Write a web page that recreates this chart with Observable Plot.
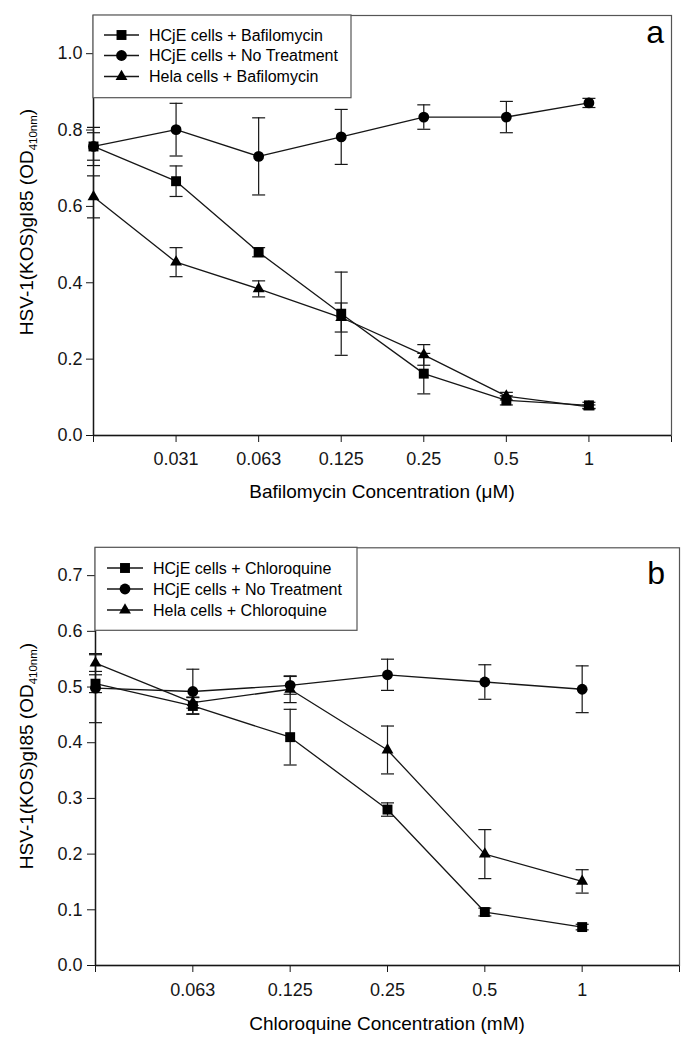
<!DOCTYPE html>
<html><head><meta charset="utf-8">
<script src="https://cdn.jsdelivr.net/npm/d3@7"></script>
<script src="https://cdn.jsdelivr.net/npm/@observablehq/plot@0.6"></script>
<style>
body{margin:0;background:#fff;}
#chart{width:690px;}
#chart svg{display:block;}
</style></head><body><div id="chart"></div>
<script>
// ---------- Panel a data ----------
const seriesA = ["HCjE cells + Bafilomycin", "HCjE cells + No Treatment", "Hela cells + Bafilomycin"];
const concA = ["0", "0.031", "0.063", "0.125", "0.25", "0.5", "1"];
const bafHCjE = [0.757, 0.666, 0.480, 0.319, 0.162, 0.092, 0.079];
const bafHCjEErr = [0.036, 0.040, 0.012, 0.109, 0.053, 0.012, 0.008];
const noTreatA = [0.757, 0.801, 0.731, 0.782, 0.834, 0.834, 0.871];
const noTreatAErr = [0.050, 0.069, 0.101, 0.072, 0.032, 0.041, 0.012];
const bafHela = [0.625, 0.454, 0.384, 0.309, 0.211, 0.103, 0.075];
const bafHelaErr = [0.055, 0.038, 0.021, 0.038, 0.027, 0.010, 0.005];
const yTicksA = [0, 0.2, 0.4, 0.6, 0.8, 1.0];

// ---------- Panel b data ----------
const seriesB = ["HCjE cells + Chloroquine", "HCjE cells + No Treatment", "Hela cells + Chloroquine"];
const concB = ["0", "0.063", "0.125", "0.25", "0.5", "1"];
const chlHCjE = [0.506, 0.466, 0.410, 0.280, 0.096, 0.069];
const chlHCjEErr = [0.016, 0.015, 0.050, 0.012, 0.007, 0.005];
const noTreatB = [0.498, 0.492, 0.503, 0.522, 0.509, 0.496];
const noTreatBErr = [0.062, 0.040, 0.016, 0.028, 0.031, 0.042];
const chlHela = [0.543, 0.472, 0.496, 0.387, 0.200, 0.151];
const chlHelaErr = [0.015, 0.010, 0.024, 0.043, 0.044, 0.021];
const yTicksB = [0, 0.1, 0.2, 0.3, 0.4, 0.5, 0.6, 0.7];

const symbols = ["square", "circle", "triangle"];
const symR = {square: 5.6, circle: 5.4, triangle: 4.4};
const INK = "#161616";
const FONT = "'Liberation Sans', Arial, Helvetica, sans-serif";

// horizontal cap symbol for error bars
const capSymbol = {draw(ctx) { ctx.moveTo(-6.5, 0); ctx.lineTo(6.5, 0); }};

function rowsOf(series, vals, errs) {
  const out = [];
  series.forEach((s, k) => vals[k].forEach((v, i) => out.push({series: s, sym: symbols[k], i, y: v, err: errs[k][i]})));
  return out;
}

function makePanel(cfg) {
  const rows = rowsOf(cfg.series, cfg.vals, cfg.errs);
  const nX = cfg.conc.length; // extra tick at right edge
  const svg = Plot.plot({
    width: 690, height: cfg.height,
    marginLeft: cfg.ml, marginRight: cfg.mr, marginTop: cfg.mt, marginBottom: cfg.mb,
    style: {fontFamily: FONT, fontSize: "18px", color: INK, background: "#fff"},
    x: {domain: [0, nX], ticks: d3.range(nX + 1), tickFormat: i => (i === 0 || i >= nX) ? "" : cfg.conc[i],
        tickSize: 7, tickPadding: cfg.xpad, label: null},
    y: {domain: [0, cfg.yMax], ticks: cfg.yTicks, tickFormat: d3.format(".1f"),
        tickSize: cfg.ytick, tickPadding: cfg.ypad, label: null},
    marks: [
      Plot.frame({stroke: "#555", strokeWidth: 1.2}),
      Plot.ruleX([0], {stroke: INK, strokeWidth: 1.4}),
      Plot.ruleY([0], {stroke: INK, strokeWidth: 1.4}),
      Plot.line(rows, {x: "i", y: "y", z: "series", stroke: INK, strokeWidth: 1.3}),
      Plot.ruleX(rows, {x: "i", y1: d => d.y - d.err, y2: d => d.y + d.err, stroke: INK, strokeWidth: 1.2}),
      Plot.dot(rows, {x: "i", y: d => d.y + d.err, symbol: () => capSymbol, fill: "none", stroke: INK, strokeWidth: 1.2}),
      Plot.dot(rows, {x: "i", y: d => d.y - d.err, symbol: () => capSymbol, fill: "none", stroke: INK, strokeWidth: 1.2}),
      ...symbols.map(s => Plot.dot(rows.filter(d => d.sym === s), {x: "i", y: "y", symbol: s, r: symR[s], fill: "#000", stroke: "none"}))
    ]
  });
  const g = d3.select(svg).append("g").attr("font-family", FONT).attr("fill", "#000").attr("text-anchor", "start");
  // legend
  const L = cfg.legend;
  g.append("rect").attr("x", L.x0).attr("y", L.y0).attr("width", L.x1 - L.x0).attr("height", L.y1 - L.y0)
    .attr("fill", "#fff").attr("stroke", "#555").attr("stroke-width", 1.2);
  cfg.series.forEach((s, k) => {
    const yy = L.rows[k];
    g.append("line").attr("x1", L.lx0).attr("x2", L.lx1).attr("y1", yy).attr("y2", yy).attr("stroke", INK).attr("stroke-width", 1.3);
    const sym = {square: d3.symbolSquare, circle: d3.symbolCircle, triangle: d3.symbolTriangle}[symbols[k]];
    g.append("path").attr("d", d3.symbol(sym, Math.PI * symR[symbols[k]] ** 2)())
      .attr("transform", `translate(${(L.lx0 + L.lx1) / 2},${yy})`).attr("fill", "#000");
    g.append("text").attr("x", L.tx).attr("y", yy).attr("dy", "0.36em").attr("text-anchor", "start")
      .attr("font-size", 16).text(s);
  });
  // panel letter
  g.append("text").attr("x", cfg.letter.x).attr("y", cfg.letter.y).attr("text-anchor", "end")
    .attr("font-size", 32).text(cfg.letter.t);
  // x title
  g.append("text").attr("x", cfg.xTitle.x).attr("y", cfg.xTitle.y).attr("text-anchor", "middle")
    .attr("font-size", 19).text(cfg.xTitle.t);
  // y title with subscript
  const yt = g.append("text").attr("transform", `translate(${cfg.yTitle.x},${cfg.yTitle.y}) rotate(-90)`)
    .attr("text-anchor", "middle").attr("font-size", 19);
  yt.append("tspan").text("HSV-1(KOS)gI85 (OD");
  yt.append("tspan").attr("font-size", 11.5).attr("dy", 4).text("410nm");
  yt.append("tspan").attr("dy", -4).text(")");
  return svg;
}

const chart = document.getElementById("chart");
chart.append(makePanel({
  series: seriesA, conc: concA,
  vals: [bafHCjE, noTreatA, bafHela], errs: [bafHCjEErr, noTreatAErr, bafHelaErr],
  yMax: 1.1, yTicks: yTicksA, height: 520, ml: 93, mr: 19, mt: 15, mb: 85,
  xpad: 10, ytick: 7, ypad: 4,
  legend: {x0: 93, x1: 351, y0: 15, y1: 97.7, rows: [35, 55.5, 76.5], lx0: 104, lx1: 139, tx: 149},
  letter: {t: "a", x: 664, y: 43},
  xTitle: {t: "Bafilomycin Concentration (\u03bcM)", x: 382, y: 498},
  yTitle: {x: 33, y: 222}
}));
chart.append(makePanel({
  series: seriesB, conc: concB,
  vals: [chlHCjE, noTreatB, chlHela], errs: [chlHCjEErr, noTreatBErr, chlHelaErr],
  yMax: 0.75, yTicks: yTicksB, height: 524, ml: 95, mr: 11, mt: 27.3, mb: 79,
  xpad: 11, ytick: 8, ypad: 5,
  legend: {x0: 95, x1: 357, y0: 27.3, y1: 110.3, rows: [48, 69, 90], lx0: 107, lx1: 143, tx: 153},
  letter: {t: "b", x: 665, y: 64},
  xTitle: {t: "Chloroquine Concentration (mM)", x: 387, y: 510},
  yTitle: {x: 33, y: 236}
}));
</script></body></html>
